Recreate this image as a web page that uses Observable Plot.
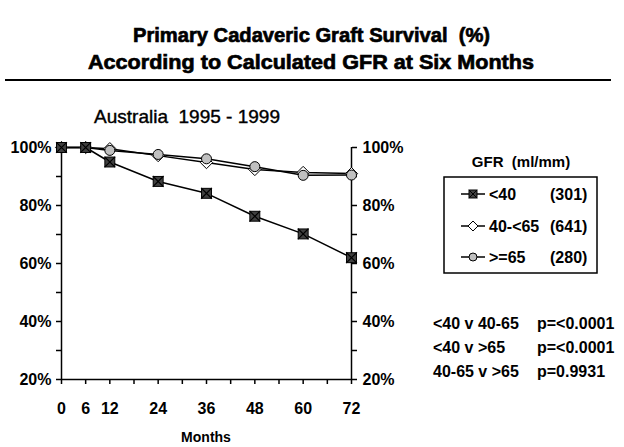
<!DOCTYPE html>
<html><head><meta charset="utf-8">
<script src="https://cdn.jsdelivr.net/npm/d3@7"></script>
<script src="https://cdn.jsdelivr.net/npm/@observablehq/plot@0.6"></script>
<style>
body{margin:0;background:#fff;}
#chart{position:relative;width:624px;height:447px;}
</style></head><body><div id="chart"></div>
<script>
// ---- data ----
const months = [0, 6, 12, 24, 36, 48, 60, 72];
const seriesNames = ["<40", "40-<65", ">=65"];
const seriesCounts = ["(301)", "(641)", "(280)"];
const lt40 = [100, 100, 95, 88.3, 84.2, 76.3, 70.2, 62];
const gfr40to65 = [100, 100, 99.6, 97.2, 94.8, 92.4, 91.4, 91];
const ge65 = [100, 100, 99, 97.6, 96.1, 93.4, 90.4, 90.5];
const yTicks = [20, 30, 40, 50, 60, 70, 80, 90, 100];
const yLabels = [20, 40, 60, 80, 100];
const xTicks = [0, 6, 12, 18, 24, 30, 36, 42, 48, 54, 60, 66, 72];
const xLabels = [0, 6, 12, 24, 36, 48, 60, 72];
const pairs = ["<40 v 40-65", "<40 v >65", "40-65 v >65"];
const pvals = ["p=<0.0001", "p=<0.0001", "p=0.9931"];
const titleLines = ["Primary Cadaveric Graft Survival  (%)", "According to Calculated GFR at Six Months"];
const subtitle = "Australia  1995 - 1999";
const xTitle = "Months";
const legendTitle = "GFR  (ml/mm)";

// ---- build ----
const FONT = '"Liberation Sans", Arial, sans-serif';
const mk = (arr, name) => months.map((m, i) => ({month: m, value: arr[i], series: name}));
const d1 = mk(lt40, seriesNames[0]);
const d2 = mk(gfr40to65, seriesNames[1]);
const d3s = mk(ge65, seriesNames[2]);
const all = [...d1, ...d2, ...d3s];

const axisCommon = {ticks: yTicks, tickSize: 5, tickPadding: 5, label: null,
  tickFormat: d => yLabels.includes(d) ? d + "%" : "", fontSize: 16, fontWeight: "bold", strokeWidth: 1.5};

const plot = Plot.plot({
  width: 624, height: 447,
  marginLeft: 61, marginRight: 273, marginTop: 147, marginBottom: 68,
  style: {fontFamily: FONT, color: "#000", background: "#fff", overflow: "visible"},
  x: {domain: [0, 72]},
  y: {domain: [20, 100]},
  marks: [
    Plot.axisY({...axisCommon, anchor: "left"}),
    Plot.axisY({...axisCommon, anchor: "right", tickPadding: 6}),
    Plot.axisX({ticks: xTicks, tickSize: 5, tickPadding: 18, label: null, strokeWidth: 1.5,
      tickFormat: d => xLabels.includes(d) ? String(d) : "", fontSize: 16, fontWeight: "bold"}),
    Plot.ruleX([0, 72], {y1: 20, y2: 100, stroke: "#000", strokeWidth: 1.5}),
    Plot.ruleY([20], {stroke: "#000", strokeWidth: 1.5}),
    Plot.line(all, {x: "month", y: "value", z: "series", stroke: "#000", strokeWidth: 1.5}),
    Plot.dot(d2, {x: "month", y: "value", symbol: "diamond2", fill: "#fff", stroke: "#000", strokeWidth: 1, r: 5.5}),
    Plot.dot(d3s, {x: "month", y: "value", symbol: "circle", fill: "#c0c0c0", stroke: "#000", strokeWidth: 1, r: 5}),
    Plot.dot(d1, {x: "month", y: "value", symbol: "square", fill: "#404040", stroke: "#000", strokeWidth: 1, r: 5.6}),
    Plot.dot(d1, {x: "month", y: "value", symbol: "times", stroke: "#000", strokeWidth: 1.2, r: 5})
  ]
});
document.getElementById("chart").appendChild(plot);

// ---- annotations ----
const svg = d3.select(plot);
const txt = (x, y, s, size, weight, anchor = "middle") =>
  svg.append("text").attr("x", x).attr("y", y).attr("text-anchor", anchor)
    .attr("font-family", FONT).attr("font-size", size).attr("font-weight", weight)
    .attr("fill", "#000").style("white-space", "pre").attr("xml:space", "preserve").text(s);

txt(311.5, 42, titleLines[0], 21, "bold").attr("stroke", "#000").attr("stroke-width", 0.7)
  .attr("textLength", 357).attr("lengthAdjust", "spacingAndGlyphs");
txt(311, 69, titleLines[1], 21, "bold").attr("stroke", "#000").attr("stroke-width", 0.7)
  .attr("textLength", 446).attr("lengthAdjust", "spacingAndGlyphs");
svg.append("line").attr("x1", 5).attr("x2", 611).attr("y1", 80).attr("y2", 80).attr("stroke", "#000").attr("stroke-width", 2);
txt(187, 123, subtitle, 19, "normal").attr("stroke", "#000").attr("stroke-width", 0.4);
txt(206, 442, xTitle, 14, "bold");

// legend
txt(521, 167, legendTitle, 15, "bold");
svg.append("rect").attr("x", 444).attr("y", 177).attr("width", 153).attr("height", 96)
  .attr("fill", "none").attr("stroke", "#000").attr("stroke-width", 1.5);
const legY = [194, 226, 257];
const legSym = [
  {sym: d3.symbolSquare, fill: "#404040", r: 4.5, times: true},
  {sym: d3.symbolDiamond2, fill: "#fff", r: 4.5},
  {sym: d3.symbolCircle, fill: "#c0c0c0", r: 4}
];
legY.forEach((y, i) => {
  svg.append("line").attr("x1", 461).attr("x2", 485).attr("y1", y).attr("y2", y).attr("stroke", "#000").attr("stroke-width", 1.5);
  const s = legSym[i];
  svg.append("path").attr("transform", `translate(473,${y})`)
    .attr("d", d3.symbol(s.sym, Math.PI * s.r * s.r)()).attr("fill", s.fill).attr("stroke", "#000").attr("stroke-width", 1);
  if (s.times) svg.append("path").attr("transform", `translate(473,${y})`)
    .attr("d", d3.symbol(d3.symbolTimes, Math.PI * 16)()).attr("fill", "none").attr("stroke", "#000").attr("stroke-width", 1);
  txt(489, y + 6, seriesNames[i], 16, "bold", "start");
  txt(550, y + 6, seriesCounts[i], 16, "bold", "start");
});

// p-values
const pY = [323, 347, 371];
pY.forEach((y, i) => {
  txt(433, y + 5.5, pairs[i], 16, "bold", "start");
  txt(537, y + 5.5, pvals[i], 16, "bold", "start");
});
</script></body></html>
